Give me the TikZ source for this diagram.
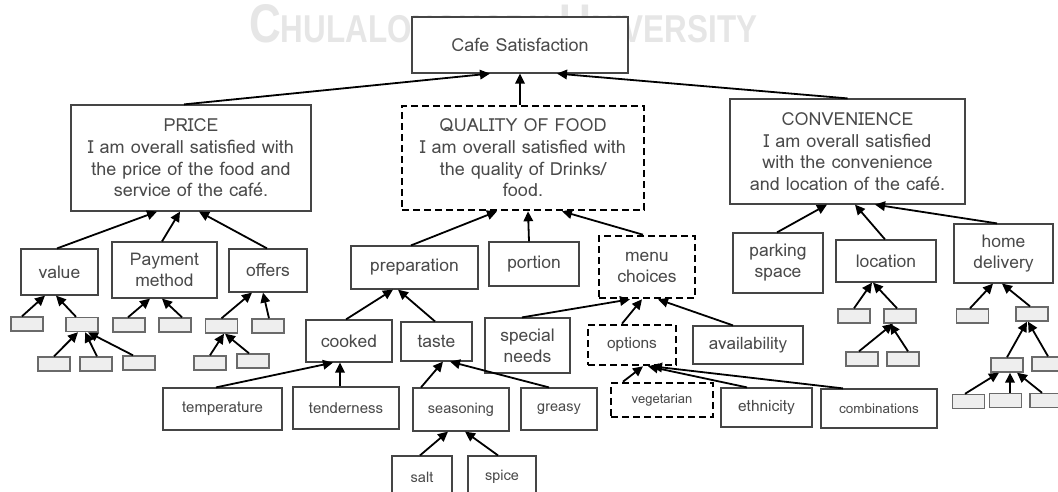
\documentclass[tikz,border=0pt]{standalone}
\usepackage{fontspec}
\setmainfont{Loma}
\newfontfamily\wmfont{Liberation Sans}
\usetikzlibrary{arrows.meta}
\definecolor{txt}{HTML}{4A4A4A}
\definecolor{boxc}{HTML}{454545}
\definecolor{gfill}{HTML}{EEEEEE}
\definecolor{gdraw}{HTML}{6A6A6A}
\definecolor{wm}{HTML}{E6E6E6}
\tikzset{
  box/.style={draw=boxc, line width=1.2pt, fill=white, inner sep=0pt, align=center, text=txt, font=\fontsize{17.5}{21}\selectfont},
  bigbox/.style={box, font=\fontsize{18}{21.7}\selectfont},
  smallbox/.style={box, font=\fontsize{14.5}{17}\selectfont},
  dashbox/.style={draw=black, line width=2.6pt, dash pattern=on 7pt off 4pt},
  gbox/.style={draw=gdraw, fill=gfill, line width=1.4pt, minimum width=32pt, minimum height=14pt, inner sep=0pt},
  arr/.style={-{Triangle[length=10pt,width=9.5pt]}, line width=1.8pt, black}
}
\begin{document}
\begin{tikzpicture}[x=1pt,y=-1pt]
\useasboundingbox (0,0) rectangle (1058,491);
\clip (0,0) rectangle (1058,491);
\fill[white] (0,0) rectangle (1058,491);
% watermark
\node[anchor=base west, inner sep=0pt, text=wm] (wm) at (249,42) {\resizebox{508pt}{38pt}{\wmfont\bfseries\fontsize{47}{47}\selectfont C\fontsize{33.5}{34}\selectfont HULALONGKORN\ \fontsize{47}{47}\selectfont U\fontsize{33.5}{34}\selectfont NIVERSITY}};
% top level
\node[bigbox, minimum width=216pt, minimum height=56pt] (root) at (520,45) {Cafe Satisfaction};
\node[bigbox, minimum width=240pt, minimum height=106pt] (price) at (191,158) {PRICE\\I am overall satisfied with\\the price of the food and\\service of the café.};
\node[bigbox, dashbox, minimum width=242pt, minimum height=104pt] (quality) at (523,158) {QUALITY OF FOOD\\I am overall satisfied with\\the quality of Drinks/\\food.};
\node[bigbox, minimum width=235pt, minimum height=105pt] (conv) at (847.5,151.5) {CONVENIENCE\\I am overall satisfied\\with the convenience\\and location of the café.};
% second level
\node[box, minimum width=77pt, minimum height=46pt] (value) at (59.5,272) {value};
\node[box, minimum width=105pt, minimum height=56pt] (payment) at (164.5,270) {Payment\\method};
\node[box, minimum width=78pt, minimum height=43pt] (offers) at (268,270.5) {offers};
\node[box, minimum width=127pt, minimum height=43pt] (prep) at (414.5,267.5) {preparation};
\node[box, minimum width=90pt, minimum height=44pt] (portion) at (534,264) {portion};
\node[box, dashbox, minimum width=96pt, minimum height=62pt] (menu) at (647,267) {menu\\choices};
\node[box, minimum width=90pt, minimum height=60pt] (parking) at (778,263) {parking\\space};
\node[box, minimum width=100pt, minimum height=42pt] (location) at (886,261) {location};
\node[box, minimum width=99pt, minimum height=59pt] (home) at (1003.5,253.5) {home\\delivery};
% third level
\node[box, minimum width=86pt, minimum height=42pt] (cooked) at (349,341) {cooked};
\node[box, minimum width=71pt, minimum height=39pt] (taste) at (436.5,341.5) {taste};
\node[box, minimum width=85pt, minimum height=55pt] (special) at (527.5,345.5) {special\\needs};
\node[box, dashbox, font=\fontsize{15.5}{18}\selectfont, minimum width=88pt, minimum height=40pt] (options) at (632,345) {options};
\node[box, font=\fontsize{17}{20}\selectfont, minimum width=110pt, minimum height=38pt] (avail) at (748,345) {availability};
% fourth level
\node[smallbox, font=\fontsize{15}{18}\selectfont, minimum width=119pt, minimum height=42pt] (temp) at (222.5,409) {\raisebox{-3pt}{temperature}};
\node[smallbox, font=\fontsize{15}{18}\selectfont, minimum width=106pt, minimum height=42pt] (tender) at (346,408) {tenderness};
\node[smallbox, minimum width=96pt, minimum height=43pt] (season) at (461,409.5) {\raisebox{-2pt}{seasoning}};
\node[smallbox, minimum width=76pt, minimum height=42pt] (greasy) at (559,409) {greasy};
\node[smallbox, dashbox, font=\fontsize{13}{16}\selectfont, minimum width=102pt, minimum height=34pt] (veg) at (662,400) {vegetarian};
\node[box, font=\fontsize{15.5}{18}\selectfont, minimum width=91pt, minimum height=39pt] (eth) at (766.5,407.5) {ethnicity};
\node[smallbox, font=\fontsize{13.5}{16}\selectfont, minimum width=116pt, minimum height=39pt] (comb) at (879,408.5) {combinations};
\node[smallbox, minimum width=60pt, minimum height=42pt] (salt) at (422,477) {salt};
\node[smallbox, minimum width=68pt, minimum height=42pt] (spice) at (502,477) {spice};
% gray boxes
\node[gbox] (g1) at (27,324) {};
\node[gbox] (g2) at (82,324.5) {};
\node[gbox] (g3) at (129,325) {};
\node[gbox] (g4) at (175,325) {};
\node[gbox] (g5) at (221.5,326) {};
\node[gbox] (g6) at (268,326) {};
\node[gbox] (g7) at (54,364) {};
\node[gbox] (g8) at (96,364) {};
\node[gbox] (g9) at (139,363) {};
\node[gbox] (g10) at (210,363) {};
\node[gbox] (g11) at (253,361) {};
\node[gbox] (g12) at (854,316) {};
\node[gbox] (g13) at (900,316) {};
\node[gbox] (g14) at (862,359) {};
\node[gbox] (g15) at (903,359) {};
\node[gbox] (g16) at (972.5,316) {};
\node[gbox] (g17) at (1032,314) {};
\node[gbox] (g18) at (1007,365) {};
\node[gbox] (g19) at (1048,364) {};
\node[gbox] (g20) at (968.5,401.5) {};
\node[gbox] (g21) at (1005.5,400.5) {};
\node[gbox] (g22) at (1046,400.5) {};
% arrows
\draw[arr] ([xshift=-7pt]price.north) -- ([xshift=-30pt]root.south);
\draw[arr] ([xshift=-3pt]quality.north) -- (root.south);
\draw[arr] (conv.north) -- ([xshift=37pt]root.south);
\draw[arr] ([xshift=-2.5pt]value.north) -- ([xshift=-34pt]price.south);
\draw[arr] ([xshift=-2.5pt]payment.north) -- ([xshift=-11pt]price.south);
\draw[arr] ([xshift=-1pt]offers.north) -- ([xshift=8pt]price.south);
\draw[arr] ([xshift=-3.5pt]prep.north) -- ([xshift=-26pt]quality.south);
\draw[arr] ([xshift=-5pt]portion.north) -- ([xshift=5pt]quality.south);
\draw[arr] ([xshift=-4pt]menu.north) -- ([xshift=39pt]quality.south);
\draw[arr] ([xshift=-1pt]parking.north) -- ([xshift=-20.5pt]conv.south);
\draw[arr] ([xshift=-1pt]location.north) -- ([xshift=7.5pt]conv.south);
\draw[arr] ([xshift=-6.5pt]home.north) -- ([xshift=27.5pt]conv.south);
\draw[arr] ([xshift=-3pt]cooked.north) -- ([xshift=-21.5pt]prep.south);
\draw[arr] ([xshift=-1.5pt]taste.north) -- ([xshift=-16.5pt]prep.south);
\draw[arr] ([xshift=-5.5pt]special.north) -- ([xshift=-17pt]menu.south);
\draw[arr] ([xshift=-10pt]options.north) -- ([xshift=-5pt]menu.south);
\draw[arr] ([xshift=-15pt]avail.north) -- ([xshift=11pt]menu.south);
\draw[arr] ([xshift=-6.5pt]temp.north) -- ([xshift=-16pt]cooked.south);
\draw[arr] ([xshift=-6pt]tender.north) -- ([xshift=-9pt]cooked.south);
\draw[arr] ([xshift=-40pt]season.north) -- ([xshift=6.5pt]taste.south);
\draw[arr] ([xshift=-10pt]greasy.north) -- ([xshift=13.5pt]taste.south);
\draw[arr] ([xshift=-2pt]salt.north) -- ([xshift=-13pt]season.south);
\draw[arr] ([xshift=-4pt]spice.north) -- ([xshift=4pt]season.south);
\draw[arr] ([xshift=-39pt]veg.north) -- ([xshift=11pt]options.south);
\draw[arr] ([xshift=-19.5pt]eth.north) -- ([xshift=16pt]options.south);
\draw[arr] ([xshift=-36pt]comb.north) -- ([xshift=20pt]options.south);
\draw[arr] ([xshift=-5pt]g1.north) -- ([xshift=-14.5pt]value.south);
\draw[arr] ([xshift=-6pt]g2.north) -- ([xshift=-3.5pt]value.south);
\draw[arr] ([xshift=-1pt]g3.north) -- ([xshift=-14.5pt]payment.south);
\draw[arr] ([xshift=7pt]g4.north) -- ([xshift=-2.5pt]payment.south);
\draw[arr] (g5.north) -- ([xshift=-16pt]offers.south);
\draw[arr] ([xshift=1pt]g6.north) -- ([xshift=-5pt]offers.south);
\draw[arr] (g7.north) -- ([xshift=-4pt]g2.south);
\draw[arr] ([xshift=1pt]g8.north) -- ([xshift=3pt]g2.south);
\draw[arr] ([xshift=-6pt]g9.north) -- ([xshift=6pt]g2.south);
\draw[arr] (g10.north) -- ([xshift=2.5pt]g5.south);
\draw[arr] ([xshift=-4pt]g11.north) -- ([xshift=3.5pt]g5.south);
\draw[arr] (g12.north) -- ([xshift=-14pt]location.south);
\draw[arr] ([xshift=-3pt]g13.north) -- ([xshift=-13pt]location.south);
\draw[arr] ([xshift=-3pt]g14.north) -- ([xshift=-7pt]g13.south);
\draw[arr] ([xshift=5pt]g15.north) -- ([xshift=-10pt]g13.south);
\draw[arr] ([xshift=-2.5pt]g16.north) -- ([xshift=-10.5pt]home.south);
\draw[arr] ([xshift=-2pt]g17.north) -- ([xshift=-1.5pt]home.south);
\draw[arr] (g18.north) -- ([xshift=-5pt]g17.south);
\draw[arr] (g19.north) -- ([xshift=-4pt]g17.south);
\draw[arr] ([xshift=-3.5pt]g20.north) -- ([xshift=-8pt]g18.south);
\draw[arr] ([xshift=4.5pt]g21.north) -- ([xshift=3pt]g18.south);
\draw[arr] ([xshift=-4pt]g22.north) -- ([xshift=10pt]g18.south);
\end{tikzpicture}
\end{document}
